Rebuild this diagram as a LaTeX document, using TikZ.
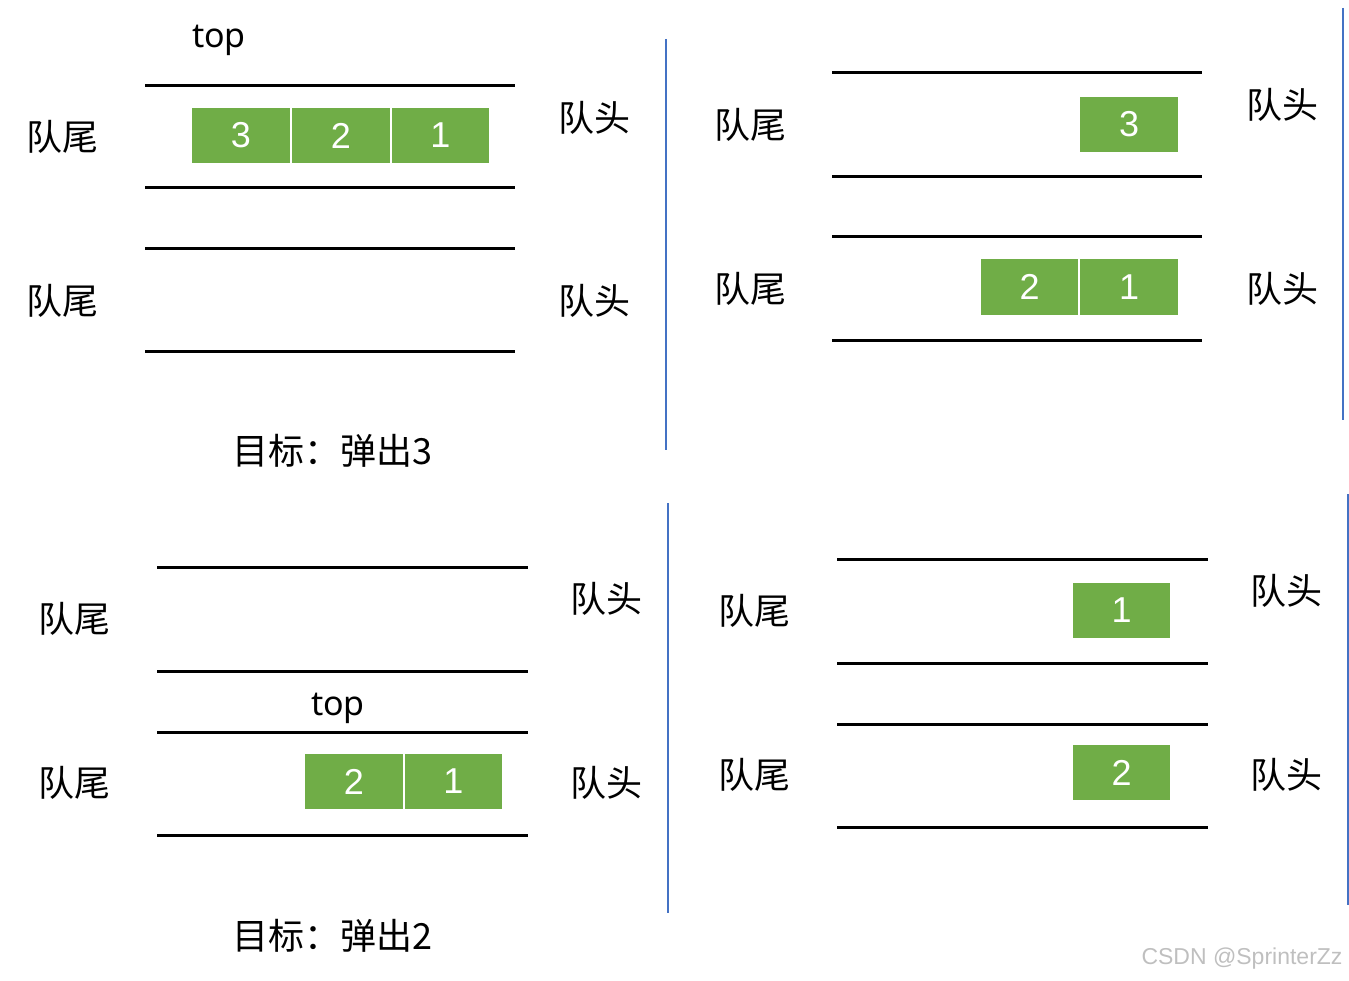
\documentclass[tikz,border=0pt]{standalone}
\usepackage{fontspec}
\setmainfont{Noto Sans}
\newfontfamily\cjk{Noto Sans CJK SC}
\newfontfamily\digitfont{Liberation Sans}
\definecolor{boxgreen}{HTML}{70AD47}
\definecolor{sepblue}{HTML}{4472C4}
\begin{document}
\begin{tikzpicture}[x=1pt,y=-1pt,
  cell/.style={draw=white,line width=1.5pt,fill=boxgreen,text=white,minimum width=99pt,minimum height=57pt,inner sep=0pt,font=\digitfont\fontsize{36}{40}\selectfont},
  lab/.style={font=\cjk\fontsize{36}{40}\selectfont,inner sep=0pt},
  goal/.style={font=\cjk\fontsize{36}{40}\selectfont,inner sep=0pt,anchor=west},
  toplab/.style={font=\fontsize{34}{38}\selectfont,inner sep=0pt},
  rail/.style={line width=3pt,black},
  sep/.style={line width=1.2pt,sepblue}]
\useasboundingbox (0,0) rectangle (1349,981);
% ---------- panel 1 ----------
\node[toplab] (t1) at (219,40) {top};
\draw[rail] (145,86) -- (515,86);
\draw[rail] (145,188) -- (515,188);
\draw[rail] (145,249) -- (515,249);
\draw[rail] (145,352) -- (515,352);
\node[cell] (a3) at (241,135.5) {3};
\node[cell] (a2) at (341,135.5) {2};
\node[cell] (a1) at (440.5,135.5) {1};
\node[lab] (q1t) at (62,137) {队尾};
\node[lab] (q1h) at (594,118) {队头};
\node[lab] (q2t) at (62,301) {队尾};
\node[lab] (q2h) at (594,301) {队头};
\node[goal] (g1) at (232,451) {目标：弹出3};
\draw[sep] (666,39) -- (666,450);
% ---------- panel 2 ----------
\draw[rail] (832,73) -- (1202,73);
\draw[rail] (832,177) -- (1202,177);
\draw[rail] (832,237) -- (1202,237);
\draw[rail] (832,341) -- (1202,341);
\node[cell] (b3) at (1129,124.5) {3};
\node[cell] (b2) at (1029.5,287) {2};
\node[cell] (b1) at (1129,287) {1};
\node[lab] (q3t) at (750,125) {队尾};
\node[lab] (q3h) at (1282,105) {队头};
\node[lab] (q4t) at (750,289) {队尾};
\node[lab] (q4h) at (1282,289) {队头};
\draw[sep] (1343,8) -- (1343,420);
% ---------- panel 3 ----------
\draw[rail] (157,567) -- (528,567);
\draw[rail] (157,671) -- (528,671);
\draw[rail] (157,732) -- (528,732);
\draw[rail] (157,835) -- (528,835);
\node[toplab] (t2) at (338,708) {top};
\node[cell] (c2) at (354,781.5) {2};
\node[cell] (c1) at (453.5,781.5) {1};
\node[lab] (q5t) at (74,619) {队尾};
\node[lab] (q5h) at (606,599) {队头};
\node[lab] (q6t) at (74,783) {队尾};
\node[lab] (q6h) at (606,783) {队头};
\node[goal] (g2) at (232,936) {目标：弹出2};
\draw[sep] (668,503) -- (668,913);
% ---------- panel 4 ----------
\draw[rail] (837,559) -- (1208,559);
\draw[rail] (837,663) -- (1208,663);
\draw[rail] (837,724) -- (1208,724);
\draw[rail] (837,827) -- (1208,827);
\node[cell] (d1) at (1121.5,610.5) {1};
\node[cell] (d2) at (1121.5,772.5) {2};
\node[lab] (q7t) at (754,611) {队尾};
\node[lab] (q7h) at (1286,591) {队头};
\node[lab] (q8t) at (754,775) {队尾};
\node[lab] (q8h) at (1286,775) {队头};
\draw[sep] (1348,494) -- (1348,905);
% ---------- watermark ----------
\node[font=\digitfont\fontsize{23}{26}\selectfont,text=black!25,inner sep=0pt] (wm) at (1242,959) {CSDN @SprinterZz};
\end{tikzpicture}
\end{document}
